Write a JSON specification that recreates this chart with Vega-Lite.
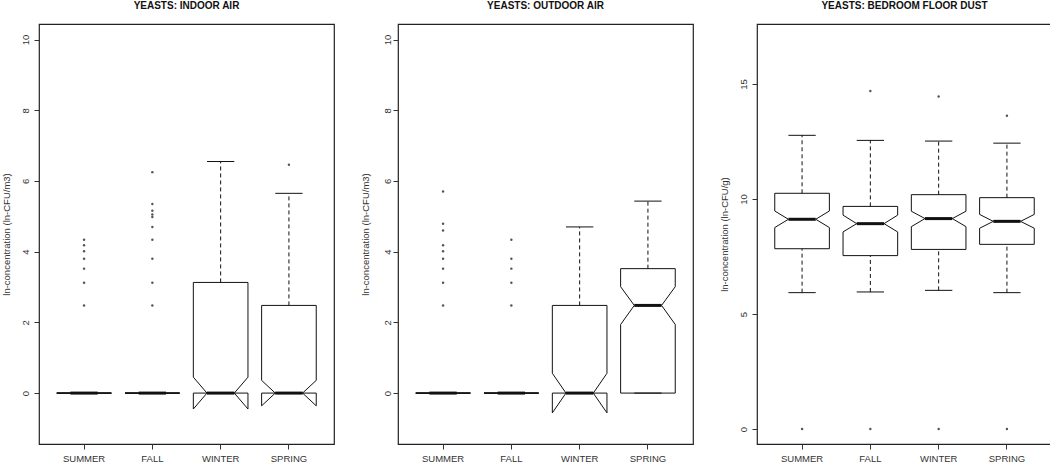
{
  "$schema": "https://vega.github.io/schema/vega-lite/v6.json",
  "padding": 0,
  "background": "white",
  "datasets": {
    "stats": [
      {"panel": "indoor", "season": "SUMMER", "q1": 0, "med": 0, "q3": 0, "nlo": 0, "nhi": 0, "wlo": 0, "whi": 0},
      {"panel": "indoor", "season": "FALL", "q1": 0, "med": 0, "q3": 0, "nlo": 0, "nhi": 0, "wlo": 0, "whi": 0},
      {"panel": "indoor", "season": "WINTER", "q1": 0, "med": 0, "q3": 3.13, "nlo": -0.45, "nhi": 0.45, "wlo": 0, "whi": 6.55},
      {"panel": "indoor", "season": "SPRING", "q1": 0, "med": 0, "q3": 2.48, "nlo": -0.36, "nhi": 0.36, "wlo": 0, "whi": 5.65},
      {"panel": "outdoor", "season": "SUMMER", "q1": 0, "med": 0, "q3": 0, "nlo": 0, "nhi": 0, "wlo": 0, "whi": 0},
      {"panel": "outdoor", "season": "FALL", "q1": 0, "med": 0, "q3": 0, "nlo": 0, "nhi": 0, "wlo": 0, "whi": 0},
      {"panel": "outdoor", "season": "WINTER", "q1": 0, "med": 0, "q3": 2.48, "nlo": -0.56, "nhi": 0.56, "wlo": 0, "whi": 4.70},
      {"panel": "outdoor", "season": "SPRING", "q1": 0, "med": 2.48, "q3": 3.52, "nlo": 1.94, "nhi": 3.01, "wlo": 0, "whi": 5.43},
      {"panel": "dust", "season": "SUMMER", "q1": 7.84, "med": 9.12, "q3": 10.25, "nlo": 8.76, "nhi": 9.48, "wlo": 5.93, "whi": 12.77},
      {"panel": "dust", "season": "FALL", "q1": 7.54, "med": 8.93, "q3": 9.68, "nlo": 8.57, "nhi": 9.30, "wlo": 5.96, "whi": 12.55},
      {"panel": "dust", "season": "WINTER", "q1": 7.81, "med": 9.15, "q3": 10.19, "nlo": 8.80, "nhi": 9.47, "wlo": 6.03, "whi": 12.52},
      {"panel": "dust", "season": "SPRING", "q1": 8.03, "med": 9.03, "q3": 10.06, "nlo": 8.73, "nhi": 9.33, "wlo": 5.93, "whi": 12.43}
    ],
    "outliers": [
      {"panel": "indoor", "season": "SUMMER", "value": 2.48},
      {"panel": "indoor", "season": "SUMMER", "value": 3.12},
      {"panel": "indoor", "season": "SUMMER", "value": 3.52},
      {"panel": "indoor", "season": "SUMMER", "value": 3.80},
      {"panel": "indoor", "season": "SUMMER", "value": 4.01},
      {"panel": "indoor", "season": "SUMMER", "value": 4.18},
      {"panel": "indoor", "season": "SUMMER", "value": 4.34},
      {"panel": "indoor", "season": "FALL", "value": 2.48},
      {"panel": "indoor", "season": "FALL", "value": 3.12},
      {"panel": "indoor", "season": "FALL", "value": 3.80},
      {"panel": "indoor", "season": "FALL", "value": 4.34},
      {"panel": "indoor", "season": "FALL", "value": 4.70},
      {"panel": "indoor", "season": "FALL", "value": 4.98},
      {"panel": "indoor", "season": "FALL", "value": 5.05},
      {"panel": "indoor", "season": "FALL", "value": 5.16},
      {"panel": "indoor", "season": "FALL", "value": 5.35},
      {"panel": "indoor", "season": "FALL", "value": 6.25},
      {"panel": "indoor", "season": "SPRING", "value": 6.46},
      {"panel": "outdoor", "season": "SUMMER", "value": 2.48},
      {"panel": "outdoor", "season": "SUMMER", "value": 3.12},
      {"panel": "outdoor", "season": "SUMMER", "value": 3.52},
      {"panel": "outdoor", "season": "SUMMER", "value": 3.80},
      {"panel": "outdoor", "season": "SUMMER", "value": 4.01},
      {"panel": "outdoor", "season": "SUMMER", "value": 4.18},
      {"panel": "outdoor", "season": "SUMMER", "value": 4.60},
      {"panel": "outdoor", "season": "SUMMER", "value": 4.79},
      {"panel": "outdoor", "season": "SUMMER", "value": 5.70},
      {"panel": "outdoor", "season": "FALL", "value": 2.48},
      {"panel": "outdoor", "season": "FALL", "value": 3.12},
      {"panel": "outdoor", "season": "FALL", "value": 3.52},
      {"panel": "outdoor", "season": "FALL", "value": 3.80},
      {"panel": "outdoor", "season": "FALL", "value": 4.34},
      {"panel": "dust", "season": "SUMMER", "value": 0},
      {"panel": "dust", "season": "FALL", "value": 0},
      {"panel": "dust", "season": "FALL", "value": 14.70},
      {"panel": "dust", "season": "WINTER", "value": 0},
      {"panel": "dust", "season": "WINTER", "value": 14.46},
      {"panel": "dust", "season": "SPRING", "value": 0},
      {"panel": "dust", "season": "SPRING", "value": 13.62}
    ]
  },
  "hconcat": [
    {
      "width": 295, "height": 420,
      "title": {"text": "YEASTS: INDOOR AIR"},
      "layer": [
        {
          "data": {"name": "stats"},
          "transform": [{"filter": "datum.panel === 'indoor'"}],
          "layer": [
            {"mark": "rule", "encoding": {
              "x": {"field": "season", "type": "nominal", "bandPosition": 0, "scale": {"domain": ["SUMMER", "FALL", "WINTER", "SPRING"], "paddingInner": 0.2, "paddingOuter": 0.26}, "axis": {"title": null}},
              "x2": {"field": "season", "bandPosition": 1},
              "y": {"field": "q3", "type": "quantitative", "scale": {"domain": [-1.44, 10.44], "nice": false, "zero": false}, "axis": {"title": "ln-concentration (ln-CFU/m3)", "values": [0, 2, 4, 6, 8, 10]}}}},
            {"mark": "rule", "encoding": {"x": {"field": "season", "type": "nominal", "bandPosition": 0}, "x2": {"field": "season", "bandPosition": 1}, "y": {"field": "q1", "type": "quantitative"}}},
            {"mark": "rule", "encoding": {"x": {"field": "season", "type": "nominal", "bandPosition": 0.25}, "x2": {"field": "season", "bandPosition": 0.75}, "y": {"field": "whi", "type": "quantitative"}}},
            {"mark": "rule", "encoding": {"x": {"field": "season", "type": "nominal", "bandPosition": 0.25}, "x2": {"field": "season", "bandPosition": 0.75}, "y": {"field": "wlo", "type": "quantitative"}}},
            {"mark": {"type": "rule", "strokeDash": [4, 3]}, "encoding": {"x": {"field": "season", "type": "nominal", "bandPosition": 0.5}, "y": {"field": "q3", "type": "quantitative"}, "y2": {"field": "whi"}}},
            {"mark": {"type": "rule", "strokeDash": [4, 3]}, "encoding": {"x": {"field": "season", "type": "nominal", "bandPosition": 0.5}, "y": {"field": "wlo", "type": "quantitative"}, "y2": {"field": "q1"}}},
            {"mark": "rule", "encoding": {"x": {"field": "season", "type": "nominal", "bandPosition": 0}, "y": {"field": "nhi", "type": "quantitative"}, "y2": {"field": "q3"}}},
            {"mark": "rule", "encoding": {"x": {"field": "season", "type": "nominal", "bandPosition": 0}, "y": {"field": "q1", "type": "quantitative"}, "y2": {"field": "nlo"}}},
            {"mark": "rule", "encoding": {"x": {"field": "season", "type": "nominal", "bandPosition": 1}, "y": {"field": "nhi", "type": "quantitative"}, "y2": {"field": "q3"}}},
            {"mark": "rule", "encoding": {"x": {"field": "season", "type": "nominal", "bandPosition": 1}, "y": {"field": "q1", "type": "quantitative"}, "y2": {"field": "nlo"}}},
            {"mark": "rule", "encoding": {"x": {"field": "season", "type": "nominal", "bandPosition": 0}, "x2": {"field": "season", "bandPosition": 0.25}, "y": {"field": "nhi", "type": "quantitative"}, "y2": {"field": "med"}}},
            {"mark": "rule", "encoding": {"x": {"field": "season", "type": "nominal", "bandPosition": 0}, "x2": {"field": "season", "bandPosition": 0.25}, "y": {"field": "nlo", "type": "quantitative"}, "y2": {"field": "med"}}},
            {"mark": "rule", "encoding": {"x": {"field": "season", "type": "nominal", "bandPosition": 1}, "x2": {"field": "season", "bandPosition": 0.75}, "y": {"field": "nhi", "type": "quantitative"}, "y2": {"field": "med"}}},
            {"mark": "rule", "encoding": {"x": {"field": "season", "type": "nominal", "bandPosition": 1}, "x2": {"field": "season", "bandPosition": 0.75}, "y": {"field": "nlo", "type": "quantitative"}, "y2": {"field": "med"}}},
            {"mark": {"type": "rule", "strokeWidth": 3}, "encoding": {"x": {"field": "season", "type": "nominal", "bandPosition": 0.25}, "x2": {"field": "season", "bandPosition": 0.75}, "y": {"field": "med", "type": "quantitative"}}}
          ]
        },
        {
          "data": {"name": "outliers"},
          "transform": [{"filter": "datum.panel === 'indoor'"}],
          "mark": {"type": "point", "filled": true, "size": 6, "color": "#555", "opacity": 1},
          "encoding": {"x": {"field": "season", "type": "nominal"}, "y": {"field": "value", "type": "quantitative"}}
        }
      ]
    },
    {
      "width": 295, "height": 420,
      "title": {"text": "YEASTS: OUTDOOR AIR"},
      "layer": [
        {
          "data": {"name": "stats"},
          "transform": [{"filter": "datum.panel === 'outdoor'"}],
          "layer": [
            {"mark": "rule", "encoding": {
              "x": {"field": "season", "type": "nominal", "bandPosition": 0, "scale": {"domain": ["SUMMER", "FALL", "WINTER", "SPRING"], "paddingInner": 0.2, "paddingOuter": 0.26}, "axis": {"title": null}},
              "x2": {"field": "season", "bandPosition": 1},
              "y": {"field": "q3", "type": "quantitative", "scale": {"domain": [-1.44, 10.44], "nice": false, "zero": false}, "axis": {"title": "ln-concentration (ln-CFU/m3)", "values": [0, 2, 4, 6, 8, 10], "labelPadding": 1}}}},
            {"mark": "rule", "encoding": {"x": {"field": "season", "type": "nominal", "bandPosition": 0}, "x2": {"field": "season", "bandPosition": 1}, "y": {"field": "q1", "type": "quantitative"}}},
            {"mark": "rule", "encoding": {"x": {"field": "season", "type": "nominal", "bandPosition": 0.25}, "x2": {"field": "season", "bandPosition": 0.75}, "y": {"field": "whi", "type": "quantitative"}}},
            {"mark": "rule", "encoding": {"x": {"field": "season", "type": "nominal", "bandPosition": 0.25}, "x2": {"field": "season", "bandPosition": 0.75}, "y": {"field": "wlo", "type": "quantitative"}}},
            {"mark": {"type": "rule", "strokeDash": [4, 3]}, "encoding": {"x": {"field": "season", "type": "nominal", "bandPosition": 0.5}, "y": {"field": "q3", "type": "quantitative"}, "y2": {"field": "whi"}}},
            {"mark": {"type": "rule", "strokeDash": [4, 3]}, "encoding": {"x": {"field": "season", "type": "nominal", "bandPosition": 0.5}, "y": {"field": "wlo", "type": "quantitative"}, "y2": {"field": "q1"}}},
            {"mark": "rule", "encoding": {"x": {"field": "season", "type": "nominal", "bandPosition": 0}, "y": {"field": "nhi", "type": "quantitative"}, "y2": {"field": "q3"}}},
            {"mark": "rule", "encoding": {"x": {"field": "season", "type": "nominal", "bandPosition": 0}, "y": {"field": "q1", "type": "quantitative"}, "y2": {"field": "nlo"}}},
            {"mark": "rule", "encoding": {"x": {"field": "season", "type": "nominal", "bandPosition": 1}, "y": {"field": "nhi", "type": "quantitative"}, "y2": {"field": "q3"}}},
            {"mark": "rule", "encoding": {"x": {"field": "season", "type": "nominal", "bandPosition": 1}, "y": {"field": "q1", "type": "quantitative"}, "y2": {"field": "nlo"}}},
            {"mark": "rule", "encoding": {"x": {"field": "season", "type": "nominal", "bandPosition": 0}, "x2": {"field": "season", "bandPosition": 0.25}, "y": {"field": "nhi", "type": "quantitative"}, "y2": {"field": "med"}}},
            {"mark": "rule", "encoding": {"x": {"field": "season", "type": "nominal", "bandPosition": 0}, "x2": {"field": "season", "bandPosition": 0.25}, "y": {"field": "nlo", "type": "quantitative"}, "y2": {"field": "med"}}},
            {"mark": "rule", "encoding": {"x": {"field": "season", "type": "nominal", "bandPosition": 1}, "x2": {"field": "season", "bandPosition": 0.75}, "y": {"field": "nhi", "type": "quantitative"}, "y2": {"field": "med"}}},
            {"mark": "rule", "encoding": {"x": {"field": "season", "type": "nominal", "bandPosition": 1}, "x2": {"field": "season", "bandPosition": 0.75}, "y": {"field": "nlo", "type": "quantitative"}, "y2": {"field": "med"}}},
            {"mark": {"type": "rule", "strokeWidth": 3}, "encoding": {"x": {"field": "season", "type": "nominal", "bandPosition": 0.25}, "x2": {"field": "season", "bandPosition": 0.75}, "y": {"field": "med", "type": "quantitative"}}}
          ]
        },
        {
          "data": {"name": "outliers"},
          "transform": [{"filter": "datum.panel === 'outdoor'"}],
          "mark": {"type": "point", "filled": true, "size": 6, "color": "#555", "opacity": 1},
          "encoding": {"x": {"field": "season", "type": "nominal"}, "y": {"field": "value", "type": "quantitative"}}
        }
      ]
    },
    {
      "width": 295, "height": 420,
      "title": {"text": "YEASTS: BEDROOM FLOOR DUST"},
      "layer": [
        {
          "data": {"name": "stats"},
          "transform": [{"filter": "datum.panel === 'dust'"}],
          "layer": [
            {"mark": "rule", "encoding": {
              "x": {"field": "season", "type": "nominal", "bandPosition": 0, "scale": {"domain": ["SUMMER", "FALL", "WINTER", "SPRING"], "paddingInner": 0.2, "paddingOuter": 0.26}, "axis": {"title": null}},
              "x2": {"field": "season", "bandPosition": 1},
              "y": {"field": "q3", "type": "quantitative", "scale": {"domain": [-0.65, 17.61], "nice": false, "zero": false}, "axis": {"title": "ln-concentration (ln-CFU/g)", "values": [0, 5, 10, 15]}}}},
            {"mark": "rule", "encoding": {"x": {"field": "season", "type": "nominal", "bandPosition": 0}, "x2": {"field": "season", "bandPosition": 1}, "y": {"field": "q1", "type": "quantitative"}}},
            {"mark": "rule", "encoding": {"x": {"field": "season", "type": "nominal", "bandPosition": 0.25}, "x2": {"field": "season", "bandPosition": 0.75}, "y": {"field": "whi", "type": "quantitative"}}},
            {"mark": "rule", "encoding": {"x": {"field": "season", "type": "nominal", "bandPosition": 0.25}, "x2": {"field": "season", "bandPosition": 0.75}, "y": {"field": "wlo", "type": "quantitative"}}},
            {"mark": {"type": "rule", "strokeDash": [4, 3]}, "encoding": {"x": {"field": "season", "type": "nominal", "bandPosition": 0.5}, "y": {"field": "q3", "type": "quantitative"}, "y2": {"field": "whi"}}},
            {"mark": {"type": "rule", "strokeDash": [4, 3]}, "encoding": {"x": {"field": "season", "type": "nominal", "bandPosition": 0.5}, "y": {"field": "wlo", "type": "quantitative"}, "y2": {"field": "q1"}}},
            {"mark": "rule", "encoding": {"x": {"field": "season", "type": "nominal", "bandPosition": 0}, "y": {"field": "nhi", "type": "quantitative"}, "y2": {"field": "q3"}}},
            {"mark": "rule", "encoding": {"x": {"field": "season", "type": "nominal", "bandPosition": 0}, "y": {"field": "q1", "type": "quantitative"}, "y2": {"field": "nlo"}}},
            {"mark": "rule", "encoding": {"x": {"field": "season", "type": "nominal", "bandPosition": 1}, "y": {"field": "nhi", "type": "quantitative"}, "y2": {"field": "q3"}}},
            {"mark": "rule", "encoding": {"x": {"field": "season", "type": "nominal", "bandPosition": 1}, "y": {"field": "q1", "type": "quantitative"}, "y2": {"field": "nlo"}}},
            {"mark": "rule", "encoding": {"x": {"field": "season", "type": "nominal", "bandPosition": 0}, "x2": {"field": "season", "bandPosition": 0.25}, "y": {"field": "nhi", "type": "quantitative"}, "y2": {"field": "med"}}},
            {"mark": "rule", "encoding": {"x": {"field": "season", "type": "nominal", "bandPosition": 0}, "x2": {"field": "season", "bandPosition": 0.25}, "y": {"field": "nlo", "type": "quantitative"}, "y2": {"field": "med"}}},
            {"mark": "rule", "encoding": {"x": {"field": "season", "type": "nominal", "bandPosition": 1}, "x2": {"field": "season", "bandPosition": 0.75}, "y": {"field": "nhi", "type": "quantitative"}, "y2": {"field": "med"}}},
            {"mark": "rule", "encoding": {"x": {"field": "season", "type": "nominal", "bandPosition": 1}, "x2": {"field": "season", "bandPosition": 0.75}, "y": {"field": "nlo", "type": "quantitative"}, "y2": {"field": "med"}}},
            {"mark": {"type": "rule", "strokeWidth": 3}, "encoding": {"x": {"field": "season", "type": "nominal", "bandPosition": 0.25}, "x2": {"field": "season", "bandPosition": 0.75}, "y": {"field": "med", "type": "quantitative"}}}
          ]
        },
        {
          "data": {"name": "outliers"},
          "transform": [{"filter": "datum.panel === 'dust'"}],
          "mark": {"type": "point", "filled": true, "size": 6, "color": "#555", "opacity": 1},
          "encoding": {"x": {"field": "season", "type": "nominal"}, "y": {"field": "value", "type": "quantitative"}}
        }
      ]
    }
  ],
  "config": {
    "font": "Liberation Sans",
    "view": {"stroke": "#222", "strokeWidth": 1.2},
    "rule": {"color": "#111", "strokeWidth": 1},
    "axis": {"grid": false, "domain": false, "tickSize": 5, "tickColor": "#333", "labelColor": "#333", "titleColor": "#333", "labelFont": "Liberation Sans", "titleFont": "Liberation Sans", "titleFontWeight": "normal", "labelFontSize": 9.5, "titleFontSize": 9.5},
    "axisY": {"labelAngle": -90, "labelAlign": "center", "labelBaseline": "bottom", "labelPadding": 4, "minExtent": 20, "maxExtent": 20, "titlePadding": 8},
    "axisX": {"labelAngle": 0, "labelPadding": 4},
    "title": {"font": "Liberation Sans", "fontSize": 10, "fontWeight": "bold", "anchor": "middle", "frame": "group", "offset": 13, "baseline": "alphabetic", "color": "#111"},
    "concat": {"spacing": 24}
  }
}
